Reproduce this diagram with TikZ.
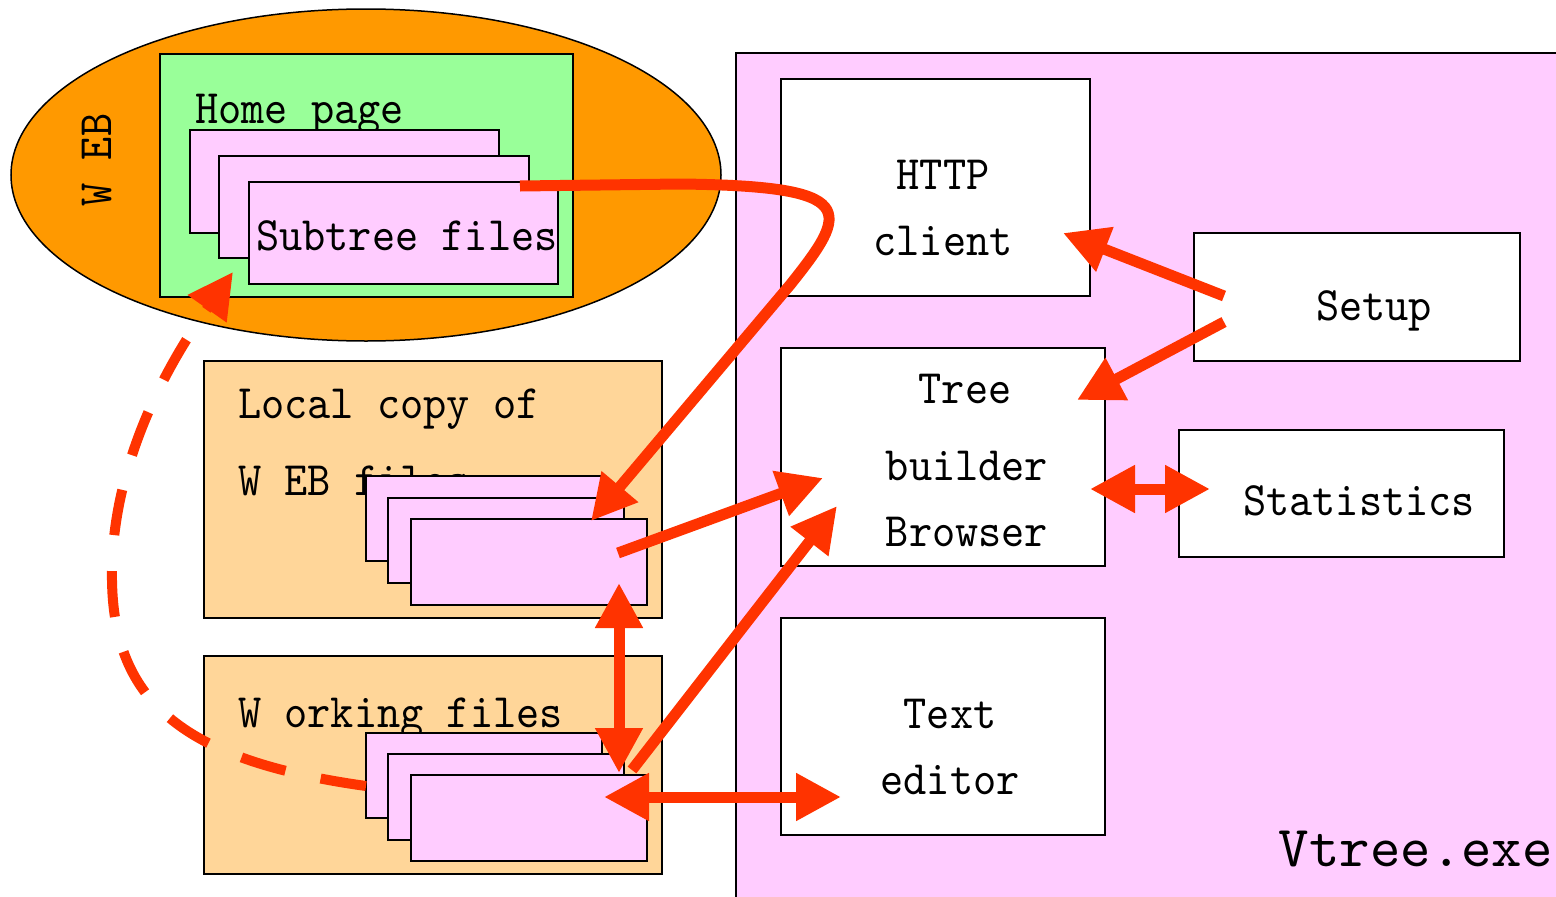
\documentclass[tikz,border=0pt]{standalone}
\usepackage{fontspec}
\newfontfamily\lblfont[FakeStretch=0.92]{lmmono10-regular.otf}
\newfontfamily\bigfont{lmmono10-regular.otf}
\usetikzlibrary{arrows.meta,shapes.geometric}
\definecolor{webOrange}{HTML}{FF9900}
\definecolor{pageGreen}{HTML}{99FF99}
\definecolor{filePink}{HTML}{FFCCFF}
\definecolor{folderTan}{HTML}{FFD699}
\definecolor{flowRed}{HTML}{FF3300}
\begin{document}
\begin{tikzpicture}[x=1pt,y=-1pt,
  >={Triangle[length=45pt,width=45pt]},
  lbl/.style={font=\lblfont\fontsize{48}{54}\selectfont, inner sep=0pt},
  box/.style={draw=black, line width=1.5pt, rectangle, inner sep=0pt, outer sep=0pt, anchor=north west},
  filebox/.style={box, fill=filePink, line width=2pt},
  flow/.style={draw=flowRed, line width=11pt},
  dashflow/.style={draw=flowRed, line width=10pt, dash pattern=on 46pt off 36pt}]
\useasboundingbox (0,0) rectangle (1556,897);
\clip (0,0) rectangle (1556,897);
\fill[white] (0,0) rectangle (1556,897);

% ---- the web ----
\node[draw=black, line width=1.5pt, fill=webOrange, ellipse, inner sep=0pt,
      minimum width=710pt, minimum height=332pt] (web) at (366,175) {};
\node[lbl, rotate=90] (webtxt) at (97,160) {W EB};
\node[box, fill=pageGreen, minimum width=413pt, minimum height=243pt] (home) at (160,54) {};
\node[lbl, anchor=base west] (hometxt) at (195,123) {Home page};
\node[filebox, minimum width=309pt, minimum height=103pt] (h1) at (190,130) {};
\node[filebox, minimum width=310pt, minimum height=102pt] (h2) at (219,156) {};
\node[filebox, minimum width=309pt, minimum height=102pt] (h3) at (249,182) {};
\node[lbl, anchor=base west] (subtxt) at (256,250) {Subtree files};

% ---- local copy ----
\node[box, fill=folderTan, minimum width=458pt, minimum height=257pt] (local) at (204,361) {};
\node[lbl, anchor=base west] (loc1) at (238,418) {Local copy of};
\node[lbl, anchor=base west] (loc2) at (238,495) {W EB files};
\node[filebox, minimum width=236pt, minimum height=85pt] (l1) at (366,476) {};
\node[filebox, minimum width=236pt, minimum height=85pt] (l2) at (388,498) {};
\node[filebox, minimum width=236pt, minimum height=86pt] (l3) at (411,519) {};

% ---- working files ----
\node[box, fill=folderTan, minimum width=458pt, minimum height=218pt] (work) at (204,656) {};
\node[lbl, anchor=base west] (worktxt) at (238,727) {W orking files};
\node[filebox, minimum width=236pt, minimum height=85pt] (w1) at (366,733) {};
\node[filebox, minimum width=236pt, minimum height=86pt] (w2) at (388,754) {};
\node[filebox, minimum width=236pt, minimum height=86pt] (w3) at (411,775) {};

% ---- Vtree.exe ----
\node[box, fill=filePink, minimum width=900pt, minimum height=900pt] (vtree) at (736,53) {};
\node[box, fill=white, minimum width=309pt, minimum height=217pt] (http) at (781,79) {};
\node[lbl, anchor=base] (http1) at (943,189) {HTTP};
\node[lbl, anchor=base] (http2) at (943,255) {client};
\node[box, fill=white, minimum width=326pt, minimum height=128pt] (setup) at (1194,233) {};
\node[lbl, anchor=base] (setuptxt) at (1374,320) {Setup};
\node[box, fill=white, minimum width=324pt, minimum height=218pt] (tree) at (781,348) {};
\node[lbl, anchor=base] (tree1) at (965,403) {Tree};
\node[lbl, anchor=base] (tree2) at (967,480) {builder};
\node[lbl, anchor=base] (tree3) at (967,546) {Browser};
\node[box, fill=white, minimum width=325pt, minimum height=127pt] (stats) at (1179,430) {};
\node[lbl, anchor=base] (statstxt) at (1359,515) {Statistics};
\node[box, fill=white, minimum width=324pt, minimum height=217pt] (editor) at (781,618) {};
\node[lbl, anchor=base] (ed1) at (950,728) {Text};
\node[lbl, anchor=base] (ed2) at (950,794) {editor};
\node[font=\bigfont\fontsize{58}{64}\selectfont, inner sep=0pt, anchor=base east] (vtreetxt) at (1553,866) {Vtree.exe};

% ---- connector ends ----
\coordinate (subOut) at (520,186);
\coordinate (locIn) at (591,521);
\coordinate (locOut) at (618,553);
\coordinate (treeInA) at (823,478);
\coordinate (locDown) at (619,583);
\coordinate (workUp) at (619,773);
\coordinate (workOut) at (632,770);
\coordinate (treeInB) at (837,506);
\coordinate (workEd) at (604,797);
\coordinate (edIn) at (841,797);
\coordinate (setupA) at (1224,296);
\coordinate (httpIn) at (1063,233);
\coordinate (setupB) at (1224,322);
\coordinate (treeInC) at (1077,400);
\coordinate (treeOut) at (1090,489);
\coordinate (statsIn) at (1210,489);
\coordinate (workDash) at (366,786);
\coordinate (webIn) at (233,272);

% ---- connectors ----
\draw[flow, ->] (subOut) -- (680,184) .. controls (860,186) and (850,210) .. (790,285) -- (locIn);
\draw[flow, ->] (locOut) -- (treeInA);
\draw[flow, <->] (locDown) -- (workUp);
\draw[flow, ->] (workOut) -- (treeInB);
\draw[flow, <->] (workEd) -- (edIn);
\draw[flow, ->] (setupA) -- (httpIn);
\draw[flow, ->] (setupB) -- (treeInC);
\draw[flow, <->] (treeOut) -- (statsIn);
\draw[dashflow, ->] (workDash) .. controls (180,760) and (110,700) .. (112,570)
      .. controls (114,440) and (190,333) .. (webIn);
\end{tikzpicture}
\end{document}
